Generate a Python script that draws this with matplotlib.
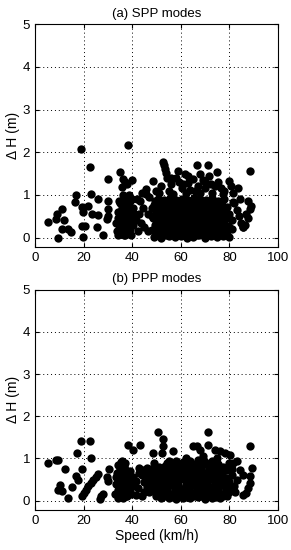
import matplotlib
matplotlib.use("Agg")
import matplotlib.pyplot as plt

plt.rcParams['font.family'] = ['Liberation Sans', 'DejaVu Sans']

# (a) SPP modes: speed (km/h) and height error (m)
spp_speed = [
    5.5, 8.5, 9.0, 11.0, 9.6, 11.0, 12.0, 13.7, 15.0, 17.1, 16.7, 18.9, 19.2, 19.9,
    20.6, 19.2, 19.9, 22.6, 23.0, 21.9, 23.3, 26.0, 26.0, 25.4, 28.1, 30.2, 29.5,
    30.2, 29.9, 30.2,
    33.5, 33.8, 34.0, 34.2, 34.5, 34.8, 35.0, 35.2, 35.5, 35.7, 35.8, 36.0, 36.2,
    36.3, 36.5, 36.6, 36.8, 37.0, 37.0, 37.2, 37.4, 37.5, 37.7, 37.8, 38.0, 38.0,
    38.2, 38.4, 38.5, 38.6, 38.8, 39.0, 39.2, 39.4, 39.5, 39.8, 40.0, 40.2, 40.4, 40.6,
    35.0, 36.0, 37.0, 38.0, 39.0, 34.0, 36.8,
    42.5, 43.2, 43.8, 44.5, 41.8, 45.9, 45.9, 46.6, 46.6, 48.0, 48.6, 49.3, 50.0,
    42.0, 44.0, 47.0, 48.0, 45.0, 43.0, 50.0,
    49.0, 52.0, 55.0, 57.5, 60.0, 62.5, 65.0, 67.5, 70.0, 72.5, 75.0, 77.5, 80.0,
    51.0, 54.0, 56.5, 59.0, 61.5, 64.0, 66.5, 69.0, 71.5, 74.0, 76.5, 79.0,
    48.0, 50.5, 53.0, 56.0, 58.5, 61.0, 63.5, 66.0, 68.5, 71.0, 73.5, 76.0, 78.5, 81.0,
    50.0, 52.0, 55.0, 57.5, 60.0, 62.5, 65.0, 67.5, 70.0, 72.5, 75.0, 77.5, 80.0,
    49.5, 51.5, 54.5, 57.0, 59.5, 62.0, 64.5, 67.0, 69.5, 72.0, 74.5, 77.0, 79.5,
    50.5, 53.0, 55.5, 58.0, 60.5, 63.0, 65.5, 68.0, 70.5, 73.0, 75.5, 78.0,
    48.5, 51.0, 53.5, 56.0, 58.5, 61.0, 63.5, 66.0, 68.5, 71.0, 73.5, 76.0, 78.5, 81.0,
    49.5, 52.0, 54.5, 57.0, 59.5, 62.0, 64.5, 67.0, 69.5, 72.0, 74.5, 77.0, 79.5,
    50.0, 52.5, 55.0, 57.5, 60.0, 62.5, 65.0, 67.5, 70.0, 72.5, 75.0, 77.5, 80.0,
    51.0, 53.5, 56.0, 58.5, 61.0, 63.5, 66.0, 68.5, 71.0, 73.5, 76.0, 78.5,
    49.0, 51.5, 54.0, 56.5, 59.0, 61.5, 64.0, 66.5, 69.0, 71.5, 74.0, 76.5, 79.0,
    52.0, 54.5, 57.0, 59.5, 62.0, 64.5, 67.0, 69.5, 72.0, 74.5, 77.0,
    50.5, 53.0, 55.5, 58.0, 60.5, 63.0, 65.5, 68.0, 70.5, 73.0, 75.5, 78.0,
    52.8, 53.2, 53.5, 54.0, 54.5, 51.0, 52.0, 55.0, 56.0, 57.0, 58.0, 59.0, 59.5,
    60.5, 61.7, 62.0, 63.0, 64.0, 65.0, 66.5, 67.0, 68.0, 69.0, 70.0, 71.3, 71.5,
    72.5, 73.0, 74.8, 75.5, 76.5, 77.5, 79.8, 80.5, 81.5, 83.5, 82.0, 83.0, 84.0,
    85.0, 85.5, 86.5, 87.6, 88.4, 87.8, 88.4, 88.8, 84.5, 81.6, 87.0, 85.7,
    56.0, 61.0, 66.0, 70.0, 74.0, 78.0, 63.0, 68.0,
]
spp_dh = [
    0.36, 0.44, 0.55, 0.67, 0.00, 0.20, 0.40, 0.20, 0.13, 0.99, 0.83, 2.08, 0.71, 0.59,
    0.28, 0.26, 0.02, 1.65, 1.03, 0.75, 0.56, 0.52, 0.91, 0.24, 0.05, 1.38, 0.44,
    0.50, 0.67, 0.85,
    0.35, 0.15, 0.60, 0.05, 0.85, 0.30, 1.53, 0.45, 0.10, 1.18, 0.70, 0.25, 1.00,
    1.38, 0.55, 0.85, 0.05, 1.30, 0.40, 0.70, 0.95, 0.20, 1.25, 0.60, 0.85, 0.30,
    0.10, 2.16, 0.50, 0.75, 1.00, 0.20, 0.40, 0.65, 0.05, 1.34, 0.90, 0.30, 0.70, 0.55,
    0.80, 0.15, 0.05, 0.65, 0.85, 0.45, 0.35,
    0.16, 0.86, 0.35, 0.70, 0.40, 1.02, 1.14, 0.55, 0.16, 0.70, 1.33, 0.86, 0.40,
    0.90, 1.05, 0.95, 0.50, 0.25, 0.55, 1.10,
    0.02, 0.00, 0.03, 0.01, 0.04, 0.00, 0.02, 0.05, 0.00, 0.03, 0.01, 0.04, 0.02,
    0.08, 0.07, 0.09, 0.06, 0.10, 0.08, 0.07, 0.09, 0.06, 0.08, 0.10, 0.07,
    0.18, 0.12, 0.16, 0.14, 0.19, 0.13, 0.17, 0.12, 0.18, 0.15, 0.11, 0.17, 0.14, 0.20,
    0.23, 0.24, 0.22, 0.25, 0.21, 0.24, 0.23, 0.22, 0.25, 0.21, 0.24, 0.22, 0.24,
    0.30, 0.33, 0.28, 0.32, 0.29, 0.34, 0.27, 0.31, 0.35, 0.28, 0.33, 0.30, 0.26,
    0.38, 0.39, 0.36, 0.40, 0.37, 0.38, 0.39, 0.36, 0.40, 0.37, 0.38, 0.39,
    0.47, 0.44, 0.48, 0.42, 0.46, 0.50, 0.43, 0.47, 0.45, 0.41, 0.49, 0.44, 0.46, 0.42,
    0.53, 0.54, 0.52, 0.55, 0.51, 0.54, 0.53, 0.52, 0.55, 0.51, 0.54, 0.53, 0.52,
    0.60, 0.62, 0.58, 0.63, 0.59, 0.61, 0.57, 0.64, 0.60, 0.58, 0.62, 0.60, 0.56,
    0.68, 0.69, 0.66, 0.70, 0.67, 0.68, 0.69, 0.66, 0.70, 0.67, 0.68, 0.69,
    0.76, 0.74, 0.78, 0.72, 0.77, 0.75, 0.79, 0.73, 0.76, 0.78, 0.74, 0.77, 0.72,
    0.83, 0.82, 0.84, 0.81, 0.85, 0.83, 0.82, 0.84, 0.81, 0.83, 0.85,
    0.90, 0.88, 0.93, 0.89, 0.91, 0.87, 0.92, 0.90, 0.88, 0.93, 0.86, 0.90,
    1.77, 1.70, 1.60, 1.52, 1.40, 1.05, 1.20, 1.10, 1.25, 1.02, 1.40, 1.57, 1.30,
    1.15, 1.50, 1.05, 1.28, 1.12, 1.38, 1.69, 1.20, 1.05, 1.35, 1.15, 1.69, 1.45,
    1.25, 1.05, 1.53, 1.30, 1.15, 1.02, 1.32, 1.20, 1.05, 1.15, 0.80, 0.65, 0.50,
    0.35, 0.24, 0.30, 0.47, 0.67, 0.85, 1.55, 0.75, 0.90, 0.83, 0.56, 0.24,
    1.40, 1.25, 1.10, 1.30, 1.20, 1.10, 1.45, 1.50,
]

# (b) PPP modes
ppp_speed = [
    5.5, 8.5, 9.6, 12.3, 10.3, 9.6, 11.0, 13.7, 15.4, 17.1, 17.4, 18.9, 22.6, 19.2,
    17.8, 23.0, 19.2, 20.2, 21.0, 22.0, 23.0, 24.0, 25.0, 26.0, 27.4, 26.7, 28.1,
    29.5, 29.9, 30.5,
    33.0, 33.5, 33.8, 34.0, 34.3, 34.6, 35.0, 35.2, 35.5, 35.8, 36.0, 36.2, 36.5,
    36.8, 37.0, 37.3, 37.5, 37.8, 38.0, 38.3, 38.6, 39.0, 39.3, 39.6, 40.0, 40.5,
    33.2, 34.5, 35.0, 35.5, 36.0, 36.5, 37.0, 37.5, 38.0, 38.5, 39.0, 39.5, 36.0,
    34.0, 37.0,
    41.8, 41.8, 43.0, 42.5, 38.4, 40.4, 43.2,
    44.5, 46.0, 43.0, 45.0, 44.0,
    52.0, 55.0, 58.0, 61.0, 64.0, 67.0, 70.0, 73.0, 76.0, 79.0,
    50.0, 53.5, 56.5, 59.5, 62.5, 65.5, 68.5, 71.5, 74.5, 77.5,
    47.0, 50.0, 53.0, 56.0, 59.0, 62.0, 65.0, 68.0, 71.0, 74.0, 77.0, 80.0,
    48.5, 51.5, 54.5, 57.5, 60.5, 63.5, 66.5, 69.5, 72.5, 75.5, 78.5,
    46.0, 49.0, 51.5, 54.5, 57.5, 60.5, 63.5, 66.5, 69.5, 72.5, 75.5, 78.5,
    47.5, 50.5, 53.0, 56.0, 59.0, 62.0, 65.0, 68.0, 71.0, 74.0, 77.0, 80.0,
    45.0, 48.0, 53.0, 56.0, 59.0, 62.0, 65.0, 68.0, 71.0, 74.0, 77.0, 80.0,
    46.5, 49.5, 52.5, 55.5, 58.5, 61.5, 64.5, 67.5, 70.5, 73.5, 76.5, 79.5,
    44.0, 47.0, 51.0, 54.5, 57.5, 60.5, 63.5, 66.5, 69.5, 72.5, 75.5, 78.5,
    46.0, 49.5, 53.0, 56.0, 59.0, 62.0, 65.0, 68.0, 71.0, 74.0, 77.0,
    45.5, 48.5, 52.0, 55.0, 58.0, 61.0, 64.0, 67.0, 70.0, 73.0, 76.0, 79.0,
    47.0, 50.5, 53.5, 56.5, 59.5, 62.5, 65.5, 68.5, 71.5, 74.5, 77.5,
    53.5, 56.5, 59.5, 62.5, 65.5, 68.5, 71.5, 74.5, 77.5,
    54.5, 57.5, 60.5, 63.5, 66.5, 69.5, 72.5, 75.5,
    55.0, 58.0, 61.0, 64.0, 67.0, 70.0, 73.0,
    56.9, 62.0, 65.2, 66.5, 67.9, 69.0, 71.3, 71.3, 74.0, 76.0, 78.2, 80.2, 75.0,
    52.8, 52.8, 52.1, 48.7, 50.7, 49.0, 51.0,
    81.6, 83.0, 84.4, 85.5, 83.0, 82.0, 88.5, 89.2, 88.5, 88.5, 87.8, 87.0, 85.7,
    81.0, 82.5, 81.0, 80.0,
]
ppp_dh = [
    0.88, 0.97, 0.97, 0.76, 0.38, 0.26, 0.22, 0.06, 0.32, 0.59, 1.13, 1.41, 1.41, 0.75,
    0.50, 1.01, 0.10, 0.18, 0.26, 0.34, 0.42, 0.48, 0.56, 0.62, 0.10, 0.04, 0.16,
    0.56, 0.46, 0.76,
    0.15, 0.40, 0.65, 0.85, 0.25, 0.10, 0.50, 0.75, 0.92, 0.30, 0.62, 0.05, 0.45,
    0.80, 0.20, 0.35, 0.55, 0.70, 0.10, 0.45, 0.60, 0.25, 0.50, 0.15, 0.35, 0.55,
    0.55, 0.45, 0.20, 0.65, 0.35, 0.80, 0.60, 0.10, 0.40, 0.25, 0.70, 0.45, 0.93,
    0.05, 0.90,
    0.14, 0.46, 0.77, 0.30, 1.33, 1.21, 1.33,
    0.72, 0.78, 0.65, 0.20, 0.10,
    0.05, 0.07, 0.04, 0.06, 0.05, 0.08, 0.04, 0.06, 0.05, 0.10,
    0.10, 0.11, 0.10, 0.12, 0.09, 0.11, 0.10, 0.12, 0.09, 0.11,
    0.20, 0.15, 0.18, 0.16, 0.19, 0.15, 0.17, 0.20, 0.16, 0.18, 0.15, 0.20,
    0.24, 0.23, 0.25, 0.22, 0.24, 0.23, 0.25, 0.22, 0.24, 0.23, 0.25,
    0.32, 0.28, 0.30, 0.29, 0.33, 0.28, 0.31, 0.30, 0.27, 0.32, 0.29, 0.30,
    0.37, 0.36, 0.38, 0.37, 0.36, 0.38, 0.37, 0.36, 0.38, 0.37, 0.36, 0.38,
    0.45, 0.42, 0.44, 0.41, 0.46, 0.43, 0.40, 0.45, 0.42, 0.44, 0.41, 0.45,
    0.50, 0.49, 0.51, 0.50, 0.49, 0.51, 0.50, 0.49, 0.51, 0.50, 0.49, 0.51,
    0.60, 0.58, 0.55, 0.57, 0.54, 0.58, 0.56, 0.53, 0.57, 0.55, 0.58, 0.54,
    0.64, 0.63, 0.62, 0.64, 0.63, 0.62, 0.64, 0.63, 0.62, 0.64, 0.63,
    0.70, 0.72, 0.68, 0.71, 0.67, 0.70, 0.69, 0.72, 0.66, 0.70, 0.68, 0.72,
    0.76, 0.77, 0.75, 0.77, 0.76, 0.75, 0.77, 0.76, 0.75, 0.77, 0.76,
    0.82, 0.84, 0.80, 0.83, 0.81, 0.85, 0.80, 0.83, 0.79,
    0.88, 0.89, 0.87, 0.88, 0.89, 0.87, 0.88, 0.87,
    0.93, 0.95, 0.92, 0.94, 0.96, 0.92, 0.95,
    1.17, 1.02, 1.29, 1.29, 1.21, 1.05, 1.33, 1.63, 1.21, 1.17, 1.13, 1.09, 1.02,
    1.45, 1.29, 1.13, 1.13, 1.63, 0.90, 0.80,
    0.89, 0.93, 0.73, 0.60, 0.50, 0.35, 1.29, 0.77, 0.58, 0.42, 0.30, 0.18, 0.14,
    0.60, 0.20, 0.75, 0.90,
]

titles = ["(a) SPP modes", "(b) PPP modes"]

fig = plt.figure(figsize=(2.91, 5.5), dpi=100)
ax1 = fig.add_axes([0.120, 0.551, 0.835, 0.405])
ax2 = fig.add_axes([0.120, 0.073, 0.835, 0.400])

for ax, xs, ys, t in [(ax1, spp_speed, spp_dh, titles[0]), (ax2, ppp_speed, ppp_dh, titles[1])]:
    ax.plot(xs, ys, 'o', color='black', ms=6, mew=0)
    ax.set_xlim(0, 100)
    ax.set_ylim(-0.22, 5)
    ax.set_xticks([0, 20, 40, 60, 80, 100])
    ax.set_yticks([0, 1, 2, 3, 4, 5])
    ax.grid(True, color='black', linestyle=(0, (1, 3)), linewidth=0.7)
    ax.tick_params(direction='in', length=3, top=True, right=True, labelsize=9.5)
    for s in ax.spines.values():
        s.set_linewidth(0.8)
    ax.set_title(t, fontsize=9.5, pad=5.5)
    ax.set_ylabel("\u0394 H (m)", fontsize=10, labelpad=2)

ax2.set_xlabel("Speed (km/h)", fontsize=10, labelpad=2)

fig.savefig("out.png", dpi=100)
